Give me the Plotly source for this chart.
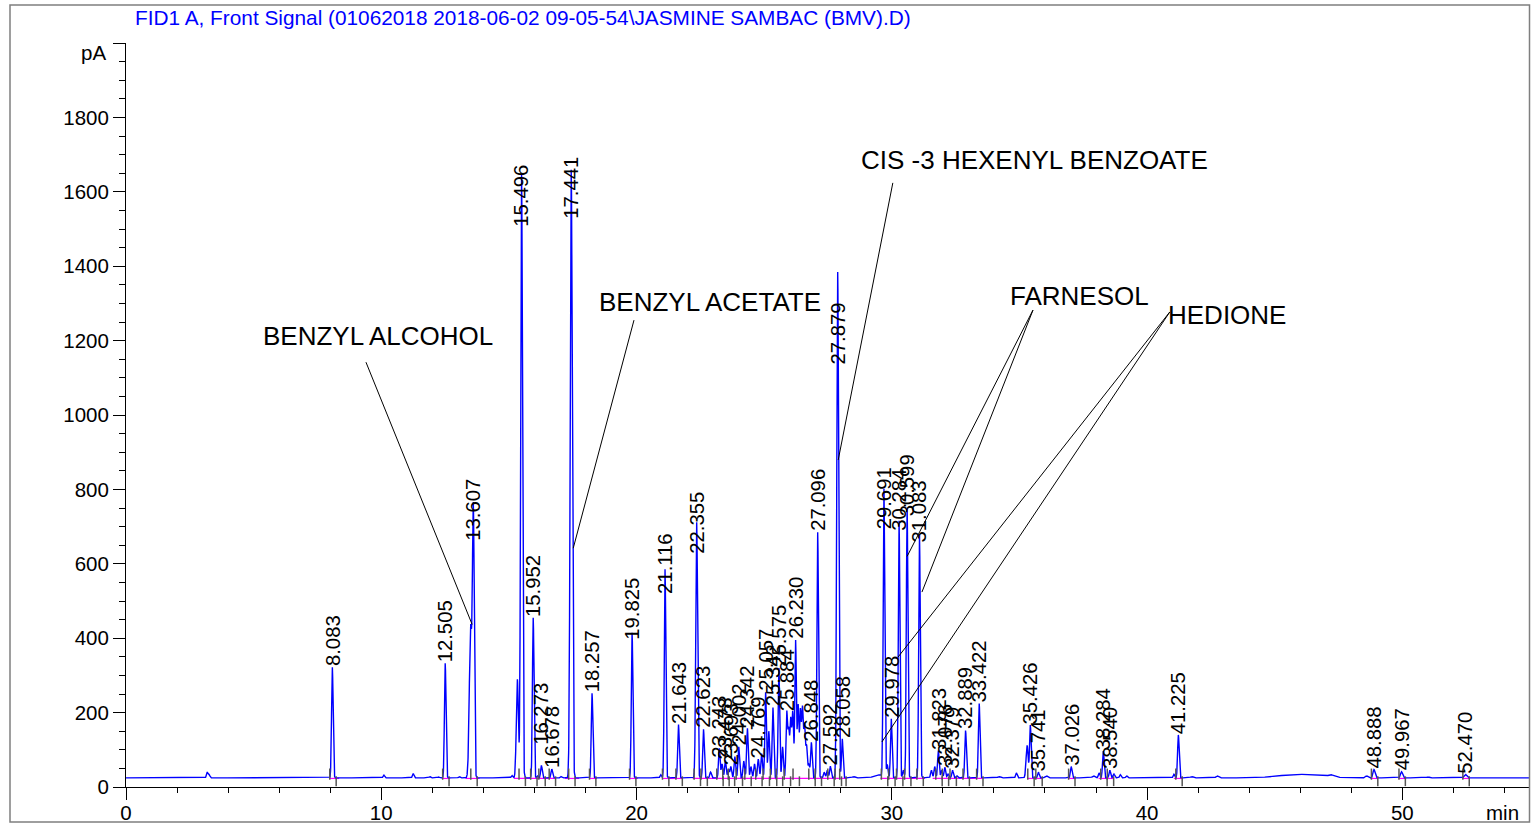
import numpy as np
import plotly.graph_objects as go

# ---------------- data ----------------
title_text = "FID1 A, Front Signal (01062018 2018-06-02 09-05-54\\JASMINE SAMBAC (BMV).D)"

baseline_pA = 24.5

# labelled peaks: retention time (min), apex (pA), peak sigma (min)
peak_rt = [8.083, 12.505, 13.607, 15.496, 15.952, 16.273, 16.678, 17.441, 18.257, 19.825,
           21.116, 21.643, 22.355, 22.623, 23.243, 23.478, 23.693, 24.002, 24.342, 24.769,
           25.057, 25.342, 25.575, 25.884, 26.230, 26.848, 27.096, 27.592, 27.879, 28.058,
           29.691, 29.978, 30.284, 30.599, 31.083, 31.823, 32.076, 32.379, 32.889, 33.422,
           35.426, 35.741, 37.026, 38.284, 38.540, 41.225, 48.888, 49.967, 52.470]
peak_pA = [322, 333, 722, 1650, 455, 58, 48, 1660, 252, 415,
           585, 168, 712, 155, 104, 72, 55, 108, 158, 75,
           255, 214, 320, 200, 395, 120, 685, 56, 1385, 130,
           800, 184, 716, 752, 680, 98, 53, 45, 152, 225,
           166, 40, 55, 97, 45, 140, 47, 41, 34]
peak_sigma = [0.03, 0.03, 0.035, 0.035, 0.03, 0.03, 0.03, 0.04, 0.03, 0.03,
              0.03, 0.03, 0.035, 0.03, 0.03, 0.03, 0.03, 0.03, 0.03, 0.03,
              0.03, 0.03, 0.03, 0.03, 0.03, 0.03, 0.03, 0.03, 0.035, 0.03,
              0.03, 0.03, 0.03, 0.03, 0.03, 0.03, 0.03, 0.03, 0.03, 0.03,
              0.03, 0.03, 0.03, 0.03, 0.03, 0.03, 0.04, 0.04, 0.05]

# unlabelled small peaks, shoulders and drift
minor_rt = [3.18, 3.26, 10.10, 11.25, 11.90, 12.25, 13.05, 13.50, 15.12, 15.33,
            16.12, 17.05, 20.95, 22.90, 23.35, 23.60, 23.85, 24.20, 24.48, 24.62,
            24.90, 25.18, 25.72, 25.96, 26.04, 26.12, 26.33, 26.42, 26.50, 26.58,
            26.66, 26.75, 27.35, 27.47, 28.50, 29.45, 29.82, 30.45, 31.55, 31.68,
            31.95, 32.20, 32.55, 34.20, 34.88, 35.30, 36.05, 37.90, 38.12, 38.70,
            38.95, 39.20, 41.05, 41.75, 42.75, 46.00, 47.20, 48.60, 51.00]
minor_pA = [40, 33, 32, 36, 28, 27, 28, 430, 31, 290,
            30, 28, 33, 40, 62, 48, 82, 70, 55, 62,
            90, 150, 108, 150, 180, 200, 220, 205, 210, 165,
            110, 60, 40, 45, 28, 33, 60, 45, 45, 55,
            45, 35, 30, 28, 38, 112, 30, 30, 38, 35,
            33, 30, 34, 28, 30, 34, 30, 30, 27]
minor_sigma = [0.03, 0.03, 0.03, 0.03, 0.03, 0.03, 0.03, 0.05, 0.03, 0.04,
               0.03, 0.03, 0.03, 0.03, 0.03, 0.03, 0.03, 0.03, 0.03, 0.03,
               0.03, 0.03, 0.03, 0.03, 0.03, 0.03, 0.03, 0.03, 0.03, 0.03,
               0.03, 0.03, 0.03, 0.03, 0.05, 0.15, 0.03, 0.03, 0.03, 0.03,
               0.03, 0.03, 0.03, 0.05, 0.03, 0.04, 0.05, 0.05, 0.03, 0.03,
               0.03, 0.03, 0.03, 0.05, 0.05, 0.8, 0.1, 0.05, 0.05]

# integration baselines (magenta), start/end in min
integ_start = [7.95, 12.40, 13.30, 15.20, 17.20, 18.15, 19.70, 21.00, 22.20, 29.55,
               31.60, 35.30, 36.90, 38.10, 41.05, 48.75, 49.85, 52.35]
integ_end = [8.35, 12.70, 13.85, 16.80, 17.75, 18.45, 20.05, 21.80, 28.25, 31.30,
             33.55, 35.90, 37.20, 38.70, 41.40, 49.05, 50.15, 52.65]

# compound names and the peaks they point at
compound_names = ["BENZYL ALCOHOL", "BENZYL ACETATE", "CIS -3 HEXENYL BENZOATE", "FARNESOL", "HEDIONE"]
compound_label_xy = [(9.87, 1212), (22.87, 1304), (35.57, 1685), (37.37, 1320), (43.13, 1269)]
compound_line_from = [[(9.40, 1142)], [(19.90, 1255)], [(30.04, 1624)],
                      [(35.53, 1282), (35.53, 1282)], [(40.89, 1277), (40.89, 1277)]]
compound_line_to = [[(13.56, 437)], [(17.52, 642)], [(27.90, 879)],
                     [(30.60, 620), (31.18, 524)], [(30.24, 349), (29.61, 121)]]

x_ticks = [0, 10, 20, 30, 40, 50]
y_ticks = [0, 200, 400, 600, 800, 1000, 1200, 1400, 1600, 1800, 2000]
y_ticktext = ["0", "200", "400", "600", "800", "1000", "1200", "1400", "1600", "1800", ""]

# ---------------- layout / style ----------------
FONT = "Liberation Sans, Arial, sans-serif"
BLUE = "#0000ff"
W, H = 1531, 832
ML, MR, MT, MB = 126, 1, 43, 45
PW, PH = W - ML - MR, H - MT - MB

# label vertical shifts in px (reference places some labels lower than apex)
label_shift_px = {13.607: -23, 15.496: -55, 17.441: -50, 21.116: -26, 22.355: -33,
                  27.879: -94, 29.691: -41, 30.284: -11, 30.599: -10, 31.083: -9,
                  19.825: -8, 23.243: -10, 16.273: 20}

# ---------------- build signal from the peak table ----------------
t = np.arange(0, 55.0001, 0.004)
signal = np.full_like(t, baseline_pA, dtype=float)
for rt, h, s in zip(peak_rt + minor_rt, peak_pA + minor_pA, peak_sigma + minor_sigma):
    signal += (h - baseline_pA) * np.exp(-0.5 * ((t - rt) / s) ** 2)

fig = go.Figure()

# magenta integration baselines
mx, my = [], []
for a, b in zip(integ_start, integ_end):
    mx += [a, b, None]
    my += [baseline_pA - 1.5, baseline_pA - 1.5, None]
fig.add_trace(go.Scatter(x=mx, y=my, mode="lines", line=dict(color="#ff00ff", width=1.2),
                         hoverinfo="skip", showlegend=False))

# signal
fig.add_trace(go.Scatter(x=t, y=signal, mode="lines", line=dict(color=BLUE, width=1.4),
                         hoverinfo="skip", showlegend=False))

# integration event marks
fig.add_trace(go.Scatter(x=[r - 0.10 for r in peak_rt], y=[baseline_pA + 10] * len(peak_rt),
                         mode="markers", marker=dict(symbol="line-ns", size=8,
                                                     line=dict(color="#555555", width=1.5)),
                         hoverinfo="skip", showlegend=False))
fig.add_trace(go.Scatter(x=[r + 0.15 for r in peak_rt], y=[baseline_pA - 9] * len(peak_rt),
                         mode="markers", marker=dict(symbol="line-ns", size=7,
                                                     line=dict(color="#555555", width=1.5)),
                         hoverinfo="skip", showlegend=False))

annotations = []
# retention time labels
for rt, h in zip(peak_rt, peak_pA):
    annotations.append(dict(x=rt, y=h, xref="x", yref="y", text=f"{rt:.3f}", textangle=-90,
                            showarrow=False, xanchor="center", yanchor="bottom",
                            yshift=label_shift_px.get(rt, 0), borderpad=0,
                            font=dict(family=FONT, size=20.3, color="black")))

# compound names + leader lines
shapes = []
for name, (lx, ly), froms, tos in zip(compound_names, compound_label_xy,
                                      compound_line_from, compound_line_to):
    annotations.append(dict(x=lx, y=ly, xref="x", yref="y", text=name, showarrow=False,
                            xanchor="center", yanchor="middle",
                            font=dict(family=FONT, size=26, color="black")))
    for (x0, y0), (x1, y1) in zip(froms, tos):
        shapes.append(dict(type="line", xref="x", yref="y", x0=x0, y0=y0, x1=x1, y1=y1,
                           line=dict(color="black", width=1)))

# title, pA, min
annotations.append(dict(x=(133 - ML) / PW, y=(H - MB - 18) / PH, xref="paper", yref="paper",
                        text=title_text, showarrow=False, xanchor="left", yanchor="middle",
                        font=dict(family=FONT, size=20.8, color=BLUE)))
annotations.append(dict(x=(108 - ML) / PW, y=(H - MB - 53) / PH, xref="paper", yref="paper",
                        text="pA", showarrow=False, xanchor="right", yanchor="middle",
                        font=dict(family=FONT, size=20.5, color="black")))
annotations.append(dict(x=(1521 - ML) / PW, y=(H - MB - 812) / PH, xref="paper", yref="paper",
                        text="min", showarrow=False, xanchor="right", yanchor="middle",
                        font=dict(family=FONT, size=20.5, color="black")))

# outer frame
shapes.append(dict(type="rect", xref="paper", yref="paper",
                   x0=(10 - ML) / PW, x1=(1529.5 - ML) / PW,
                   y0=(H - MB - 822) / PH, y1=(H - MB - 5) / PH,
                   line=dict(color="#7f7f7f", width=1.5)))

fig.update_layout(
    width=W, height=H, margin=dict(l=ML, r=MR, t=MT, b=MB, pad=0),
    paper_bgcolor="white", plot_bgcolor="white", showlegend=False,
    annotations=annotations, shapes=shapes,
    font=dict(family=FONT, size=20.5, color="black"),
    xaxis=dict(range=[0, 55], tickmode="array", tickvals=x_ticks, ticks="outside",
               ticklen=12, tickwidth=1, tickcolor="black", showline=True, linecolor="black",
               linewidth=1, showgrid=False, zeroline=False, ticklabelstandoff=-5,
               tickfont=dict(family=FONT, size=20.5, color="black"),
               minor=dict(tickmode="linear", tick0=0, dtick=2, ticks="outside", ticklen=5,
                          tickcolor="black", showgrid=False)),
    yaxis=dict(range=[0, 2000], tickmode="array", tickvals=y_ticks, ticktext=y_ticktext,
               ticks="outside", ticklen=12, tickwidth=1, tickcolor="black", showline=True,
               linecolor="black", linewidth=1, showgrid=False, zeroline=False,
               tickfont=dict(family=FONT, size=20.5, color="black"),
               minor=dict(tickmode="linear", tick0=0, dtick=50, ticks="outside", ticklen=6,
                          tickcolor="black", showgrid=False)),
)

fig.write_html("out.html", config={"displayModeBar": False},
               post_script="document.body.style.margin='0';"
                           "document.body.style.overflow='hidden';")
